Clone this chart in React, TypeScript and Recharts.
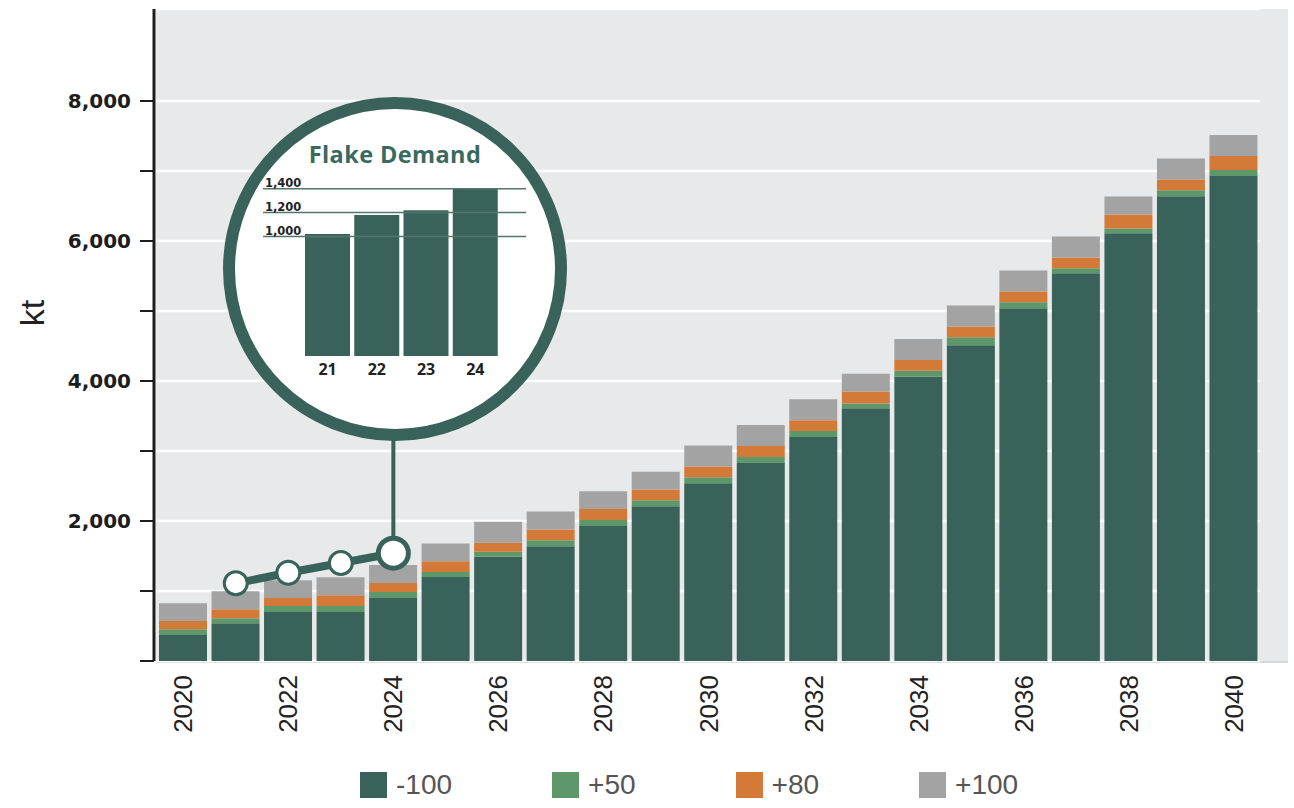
import { ComposedChart, BarChart, Bar, Line, XAxis, YAxis, CartesianGrid, ReferenceLine } from "recharts";

// main chart: demand scenarios, kt
const years = [
  "2020", "2021", "2022", "2023", "2024", "2025", "2026", "2027", "2028", "2029", "2030",
  "2031", "2032", "2033", "2034", "2035", "2036", "2037", "2038", "2039", "2040",
];
const minus100 = [370, 540, 700, 700, 900, 1200, 1490, 1640, 1930, 2210, 2540, 2830, 3200, 3610, 4060, 4510, 5040, 5540, 6110, 6640, 6930];
const plus50 = [85, 70, 85, 85, 85, 70, 70, 85, 85, 85, 85, 85, 85, 70, 85, 115, 85, 70, 70, 85, 85];
const plus80 = [115, 130, 115, 155, 130, 155, 130, 155, 155, 155, 155, 155, 155, 170, 155, 155, 155, 155, 200, 155, 200];
const plus100 = [255, 255, 255, 255, 255, 255, 300, 255, 255, 255, 300, 300, 300, 255, 300, 300, 300, 300, 255, 300, 300];
const yTicks = [0, 1000, 2000, 3000, 4000, 5000, 6000, 7000, 8000];

// callout trend markers
const trendYears = ["2021", "2022", "2023", "2024"];
const trendValues = [1110, 1260, 1400, 1540];
const calloutTop = 3400;

// inset: flake demand
const flakeYears = ["21", "22", "23", "24"];
const flakeValues = [1020, 1180, 1220, 1400];
const flakeTicks = [1000, 1200, 1400];

const DARK = "#39635a";
const series = [
  { key: "m100", name: "-100", color: DARK },
  { key: "p50", name: "+50", color: "#5e986a" },
  { key: "p80", name: "+80", color: "#d47a38" },
  { key: "p100", name: "+100", color: "#a3a3a3" },
];

const data = years.map((year, i) => {
  const t = trendYears.indexOf(year);
  return {
    year,
    m100: minus100[i],
    p50: plus50[i],
    p80: plus80[i],
    p100: plus100[i],
    trend: t >= 0 ? trendValues[t] : null,
  };
});

const flakeData = flakeYears.map((label, i) => ({ label, value: flakeValues[i] }));

const YearTick = (props: any) => {
  const { x, y, payload } = props;
  if (Number(payload.value) % 2 !== 0) return <g />;
  return (
    <text
      x={x}
      y={y}
      transform={`rotate(-90 ${x} ${y})`}
      textAnchor="end"
      dominantBaseline="central"
      fontFamily="'Liberation Sans', Arial, sans-serif"
      fontSize={26}
      fill="#222"
    >
      {payload.value}
    </text>
  );
};

const TrendDot = (props: any) => {
  const { cx, cy, payload, index } = props;
  if (cy == null || payload.trend == null) return <g key={index} />;
  const last = payload.year === trendYears[trendYears.length - 1];
  return (
    <circle key={index} cx={cx} cy={cy} r={last ? 15 : 11.5} fill="#fff" stroke={DARK} strokeWidth={last ? 5 : 3} />
  );
};

const FlakeTick = (props: any) => {
  const { x, y, payload } = props;
  return (
    <text x={x} y={y + 13} textAnchor="middle" dominantBaseline="central" fontFamily="'Open Sans', sans-serif" fontWeight={700} fontSize={16} fill="#222">
      {payload.value}
    </text>
  );
};

export default function App() {
  return (
    <div style={{ position: "absolute", left: 0, top: 0, width: 1294, height: 808, background: "#fff", overflow: "hidden" }}>
      {/* plot background runs a little past the last bar */}
      <div style={{ position: "absolute", left: 156, top: 9, width: 1132, height: 652, background: "#e8e9eb", borderBottom: "2px solid #d6d7d9" }} />

      <div style={{ position: "absolute", left: 0, top: 0 }}>
        <ComposedChart width={1294} height={808} data={data} margin={{ top: 9, right: 34, bottom: 67, left: 0 }}>
          <CartesianGrid vertical={false} stroke="#fff" strokeWidth={2.5} />
          <XAxis
            dataKey="year"
            interval={0}
            axisLine={false}
            tickLine={false}
            tickSize={0}
            tickMargin={14}
            height={80}
            padding={{ left: 3, right: 0 }}
            tick={<YearTick />}
          />
          <YAxis
            width={154}
            domain={[0, 9314]}
            ticks={yTicks}
            allowDataOverflow
            axisLine={{ stroke: "#1d1d1d", strokeWidth: 3 }}
            tickLine={{ stroke: "#1d1d1d", strokeWidth: 2 }}
            tickSize={14}
            tickMargin={9}
            tickFormatter={(v: number) => (v % 2000 === 0 && v > 0 ? v.toLocaleString("en-US") : "")}
            tick={{ fontFamily: "'DejaVu Sans', sans-serif", fontWeight: 700, fontSize: 20, fill: "#1d1d1d" }}
            label={{
              content: () => (
                <text x={32} y={313} transform="rotate(-90 32 313)" textAnchor="middle" dominantBaseline="central" fontFamily="'Liberation Sans', Arial, sans-serif" fontSize={34} fill="#222">
                  kt
                </text>
              ),
            }}
          />
          {series.map((s) => (
            <Bar key={s.key} dataKey={s.key} name={s.name} stackId="d" fill={s.color} barSize={48} isAnimationActive={false} />
          ))}
          <ReferenceLine
            segment={[
              { x: trendYears[trendYears.length - 1], y: trendValues[trendValues.length - 1] },
              { x: trendYears[trendYears.length - 1], y: calloutTop },
            ]}
            stroke={DARK}
            strokeWidth={4}
          />
          <Line dataKey="trend" stroke={DARK} strokeWidth={8} dot={TrendDot} activeDot={false} isAnimationActive={false} />
        </ComposedChart>
      </div>

      {/* callout circle */}
      <div
        style={{
          position: "absolute",
          left: 223,
          top: 97,
          width: 344,
          height: 344,
          boxSizing: "border-box",
          border: `12px solid ${DARK}`,
          borderRadius: "50%",
          background: "#fff",
        }}
      />
      <div
        style={{
          position: "absolute",
          left: 220,
          top: 138,
          width: 350,
          textAlign: "center",
          fontFamily: "'Open Sans', sans-serif",
          fontWeight: 700,
          fontSize: 23.5,
          letterSpacing: 0.4,
          color: "#3a6a5e",
        }}
      >
        Flake Demand
      </div>
      <div style={{ position: "absolute", left: 263, top: 168 }}>
        <BarChart width={300} height={212} data={flakeData} margin={{ top: 20.7, right: 37, bottom: 0, left: 0 }}>
          <XAxis
            dataKey="label"
            axisLine={false}
            tickLine={false}
            tickSize={0}
            tickMargin={0}
            height={24}
            padding={{ left: 40, right: 26 }}
            tick={<FlakeTick />}
          />
          <YAxis hide domain={[0, 1400]} />
          {flakeTicks.map((t) => (
            <ReferenceLine
              key={t}
              y={t}
              stroke="#55756d"
              strokeWidth={1.5}
              label={{
                value: t.toLocaleString("en-US"),
                position: "insideBottomLeft",
                offset: 2,
                fontFamily: "'DejaVu Sans', sans-serif",
                fontWeight: 700,
                fontSize: 11.5,
                fill: "#222",
              }}
            />
          ))}
          <Bar dataKey="value" fill={DARK} barSize={45} isAnimationActive={false} />
        </BarChart>
      </div>

      {/* legend */}
      <div style={{ position: "absolute", left: 360, top: 772, display: "flex", alignItems: "center", gap: 100 }}>
        {series.map((s) => (
          <div key={s.key} style={{ display: "flex", alignItems: "center" }}>
            <span style={{ width: 27, height: 26, background: s.color, marginRight: 9, display: "inline-block" }} />
            <span style={{ fontFamily: "'Liberation Sans', Arial, sans-serif", fontSize: 28, lineHeight: "26px", color: "#555" }}>{s.name}</span>
          </div>
        ))}
      </div>
    </div>
  );
}
